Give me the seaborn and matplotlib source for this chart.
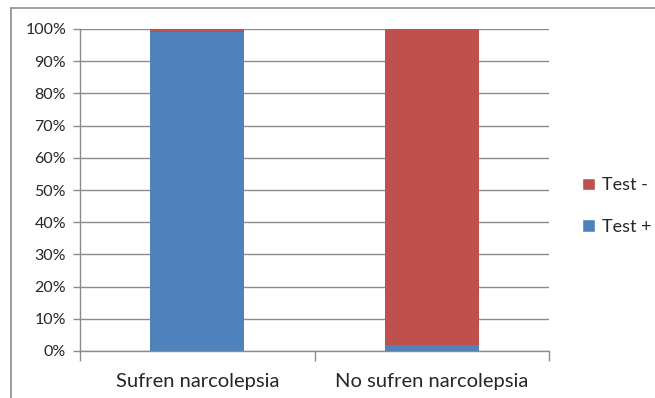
import pandas as pd
import seaborn as sns
import matplotlib.pyplot as plt
from matplotlib.patches import Patch
from matplotlib.lines import Line2D
from matplotlib.ticker import FixedLocator, PercentFormatter

categories = ['Sufren narcolepsia', 'No sufren narcolepsia']
test_pos = [99, 2]
test_neg = [1, 98]
y_ticks = [0, 10, 20, 30, 40, 50, 60, 70, 80, 90, 100]

blue = '#4F81BD'
red = '#C0504D'
grid_col = '#8C8C8C'

df = pd.DataFrame({'cat': categories, 'pos': test_pos, 'neg': test_neg})
df['total'] = df['pos'] + df['neg']

sns.set_style('white')
plt.rcParams['font.family'] = ['Lato', 'DejaVu Sans']

fig = plt.figure(figsize=(6.55, 3.98), dpi=100)
ax = fig.add_axes([80 / 655, 1 - 351 / 398, 469 / 655, 322 / 398])

sns.barplot(data=df, x='cat', y='total', color=red, width=0.4, ax=ax, saturation=1,
            linewidth=0)
sns.barplot(data=df, x='cat', y='pos', color=blue, width=0.4, ax=ax, saturation=1,
            linewidth=0)

ax.set_xlim(-0.5, 1.5)
ax.set_ylim(0, 100)
ax.set_yticks(y_ticks)
ax.yaxis.set_major_formatter(PercentFormatter(decimals=0))
ax.grid(axis='y', color=grid_col, linewidth=1)
ax.set_axisbelow(True)
ax.set_xlabel('')
ax.set_ylabel('')

for side in ['top', 'right']:
    ax.spines[side].set_visible(False)
for side in ['left', 'bottom']:
    ax.spines[side].set_color(grid_col)
    ax.spines[side].set_linewidth(1)

ax.tick_params(axis='y', length=5, color=grid_col, width=1, labelsize=11.5, pad=5,
               left=True)
ax.tick_params(axis='x', which='major', length=0, labelsize=14.5, pad=16)
ax.xaxis.set_minor_locator(FixedLocator([-0.5, 0.5, 1.5]))
ax.tick_params(axis='x', which='minor', length=7, color=grid_col, width=1, bottom=True)

handles = [Patch(facecolor=red, label='Test -'), Patch(facecolor=blue, label='Test +')]
fig.legend(handles=handles, loc='center left', bbox_to_anchor=(566 / 655, 1 - 206 / 398),
           frameon=False, fontsize=13, handlelength=0.7, handleheight=0.7,
           handletextpad=0.4, labelspacing=1.4)

# chart frame (left and top edges visible)
fig.add_artist(Line2D([11 / 655, 11 / 655], [0, 1 - 8 / 398], transform=fig.transFigure,
                      color='#8C8C8C', linewidth=1.2))
fig.add_artist(Line2D([11 / 655, 1], [1 - 8 / 398, 1 - 8 / 398], transform=fig.transFigure,
                      color='#8C8C8C', linewidth=1.2))

fig.savefig('out.png', dpi=100)
